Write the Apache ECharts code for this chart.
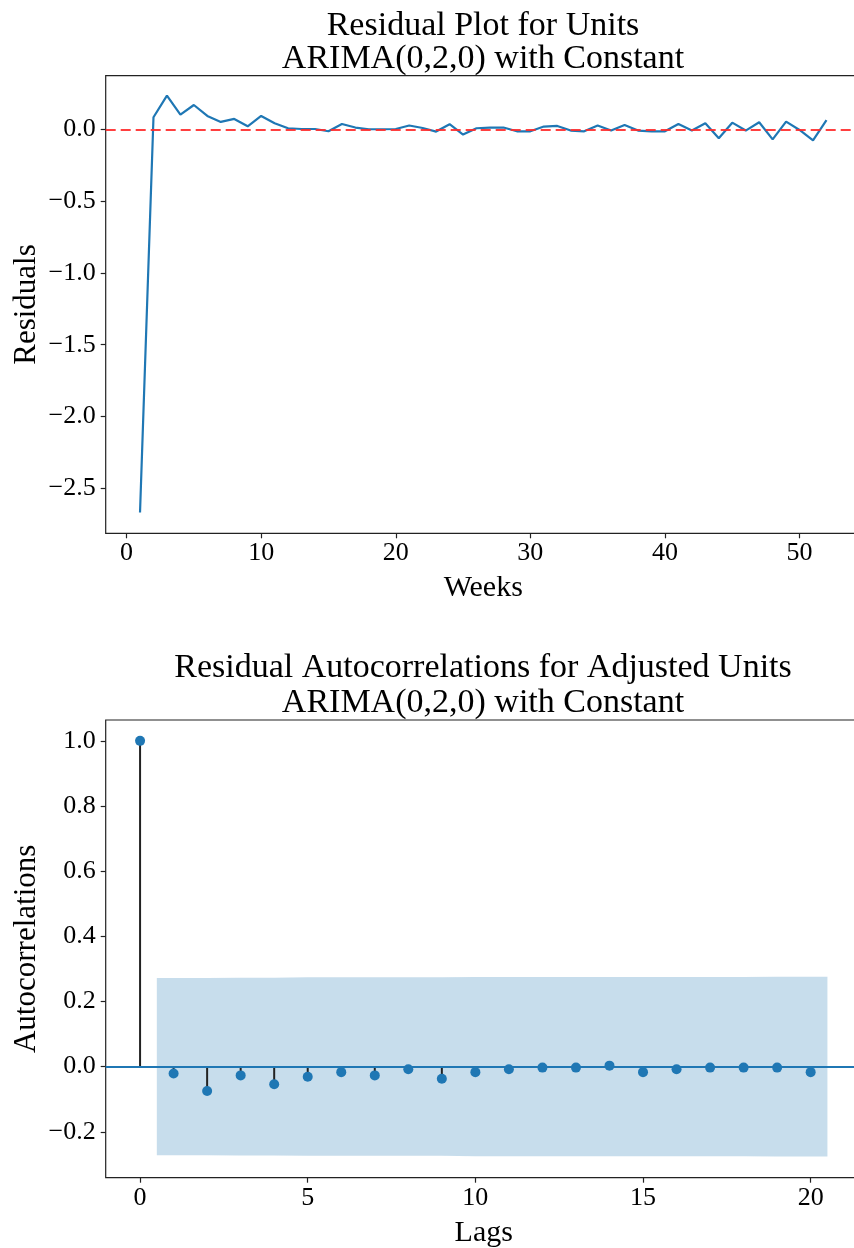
<!DOCTYPE html>
<html>
<head>
<meta charset="utf-8">
<script src="https://cdn.jsdelivr.net/npm/echarts@6/dist/echarts.min.js"></script>
<style>
html,body{margin:0;padding:0;background:#fff;}
#chart{width:854px;height:1248px;}
</style>
</head>
<body>
<div id="chart"></div>
<script>
// ---- data ----
const weeks = [1,2,3,4,5,6,7,8,9,10,11,12,13,14,15,16,17,18,19,20,21,22,23,24,25,26,27,28,29,30,31,32,33,34,35,36,37,38,39,40,41,42,43,44,45,46,47,48,49,50,51,52];
const residuals = [-2.668,0.084,0.234,0.102,0.169,0.093,0.051,0.072,0.021,0.093,0.042,0.007,0.002,0.002,-0.014,0.037,0.012,0.0,0.0,0.002,0.026,0.009,-0.016,0.035,-0.037,0.007,0.012,0.012,-0.014,-0.014,0.019,0.023,-0.009,-0.014,0.026,-0.009,0.03,-0.009,-0.014,-0.014,0.037,-0.009,0.042,-0.063,0.046,-0.009,0.049,-0.07,0.053,-0.005,-0.077,0.063];
const lags = [0,1,2,3,4,5,6,7,8,9,10,11,12,13,14,15,16,17,18,19,20];
const acfValues = [1.0,-0.021,-0.075,-0.027,-0.054,-0.031,-0.017,-0.027,-0.008,-0.037,-0.017,-0.008,-0.003,-0.003,0.003,-0.017,-0.008,-0.003,-0.003,-0.003,-0.017];
// confidence band half-width for lags 1..20 (drawn from lag-0.5 at first to lag+0.5 at last)
const bandLags = [0.5,2,3,4,5,6,7,8,9,10,11,12,13,14,15,16,17,18,19,20.5];
const bandHalf = [0.272,0.272,0.273,0.273,0.274,0.274,0.274,0.274,0.274,0.275,0.275,0.275,0.275,0.275,0.275,0.275,0.275,0.275,0.276,0.276];
const weekTicks = [0,10,20,30,40,50];
const residTicks = [-2.5,-2.0,-1.5,-1.0,-0.5,0.0];
const lagTicks = [0,5,10,15,20];
const acfTicks = [-0.2,0.0,0.2,0.4,0.6,0.8,1.0];

const FONT = '"Liberation Serif","DejaVu Serif",serif';
const fmt = v => (Math.round(v*10)/10).toFixed(1).replace('-', '\u2212');
const C0 = '#1f77b4';

const chart = echarts.init(document.getElementById('chart'), null, {renderer:'canvas'});

function xAx(gridIndex, min, max, ticks, name, gap){
  return {
    type:'value', gridIndex, min, max, name, nameLocation:'middle', nameGap:gap, nameMoveOverlap:false,
    nameTextStyle:{fontFamily:FONT, fontSize:30, color:'#000'},
    axisLine:{show:false, onZero:false}, splitLine:{show:false},
    axisTick:{show:true, length:5, lineStyle:{color:'#222', width:1.2}, customValues:ticks},
    axisLabel:{fontFamily:FONT, fontSize:26, color:'#000', margin:7, customValues:ticks, formatter:v=>String(v)}
  };
}
function yAx(gridIndex, min, max, ticks, name, gap){
  return {
    type:'value', gridIndex, min, max, name, nameLocation:'middle', nameGap:gap, nameMoveOverlap:false,
    nameTextStyle:{fontFamily:FONT, fontSize:31, color:'#000'},
    axisLine:{show:false, onZero:false}, splitLine:{show:false},
    axisTick:{show:true, length:5, lineStyle:{color:'#222', width:1.2}, customValues:ticks},
    axisLabel:{fontFamily:FONT, fontSize:26, color:'#000', margin:10, customValues:ticks, formatter:fmt}
  };
}

const option = {
  animation:false,
  backgroundColor:'#fff',
  title:[
    {text:'Residual Plot for Units\nARIMA(0,2,0) with Constant', left:478, top:5, textAlign:'center',
     textStyle:{fontFamily:FONT, fontSize:34, fontWeight:'normal', color:'#000', lineHeight:33}},
    {text:'Residual Autocorrelations for Adjusted Units\nARIMA(0,2,0) with Constant', left:478, top:646, textAlign:'center',
     textStyle:{fontFamily:FONT, fontSize:34, fontWeight:'normal', color:'#000', lineHeight:35}}
  ],
  grid:[
    {left:105.7, top:75.7, width:755.1, height:457.6, show:true, borderColor:'#222', borderWidth:1.2, containLabel:false, outerBoundsMode:'none'},
    {left:105.7, top:720, width:756.1, height:457.7, show:true, borderColor:'#222', borderWidth:1.2, containLabel:false, outerBoundsMode:'none'}
  ],
  xAxis:[
    xAx(0, -1.55, 54.55, weekTicks, 'Weeks', 40),
    xAx(1, -1.025, 21.525, lagTicks, 'Lags', 40)
  ],
  yAxis:[
    yAx(0, -2.813, 0.373, residTicks, 'Residuals', 63),
    yAx(1, -0.341, 1.064, acfTicks, 'Autocorrelations', 63)
  ],
  series:[
    {
      type:'line', xAxisIndex:0, yAxisIndex:0, symbol:'none',
      data: weeks.map((w,i)=>[w, residuals[i]]),
      lineStyle:{color:C0, width:2.2}, itemStyle:{color:C0},
      markLine:{silent:true, symbol:'none', label:{show:false},
        lineStyle:{color:'#ff2a2a', width:2.2, type:[10,5], opacity:0.9},
        data:[{yAxis:0}]},
      z:2
    },
    {
      type:'custom', xAxisIndex:1, yAxisIndex:1, silent:true,
      data:[0],
      renderItem:(params, api)=>{
        const up = bandLags.map((x,i)=>api.coord([x, bandHalf[i]]));
        const lo = bandLags.map((x,i)=>api.coord([x, -bandHalf[i]])).reverse();
        return {type:'polygon', shape:{points:up.concat(lo)}, style:{fill:'rgba(31,119,180,0.25)'}};
      },
      z:1
    },
    {
      type:'custom', xAxisIndex:1, yAxisIndex:1, silent:true,
      data: lags.map((l,i)=>[l, acfValues[i]]),
      renderItem:(params, api)=>{
        const p0 = api.coord([api.value(0), 0]);
        const p1 = api.coord([api.value(0), api.value(1)]);
        return {type:'line', shape:{x1:p0[0], y1:p0[1], x2:p1[0], y2:p1[1]}, style:{stroke:'#222', lineWidth:2}};
      },
      z:3
    },
    {
      type:'scatter', xAxisIndex:1, yAxisIndex:1, symbol:'circle', symbolSize:10,
      data: lags.map((l,i)=>[l, acfValues[i]]),
      itemStyle:{color:C0, opacity:1},
      markLine:{silent:true, symbol:'none', label:{show:false},
        lineStyle:{color:C0, width:2, type:'solid', opacity:1},
        data:[{yAxis:0}]},
      z:4
    }
  ]
};
chart.setOption(option);
</script>
</body>
</html>
